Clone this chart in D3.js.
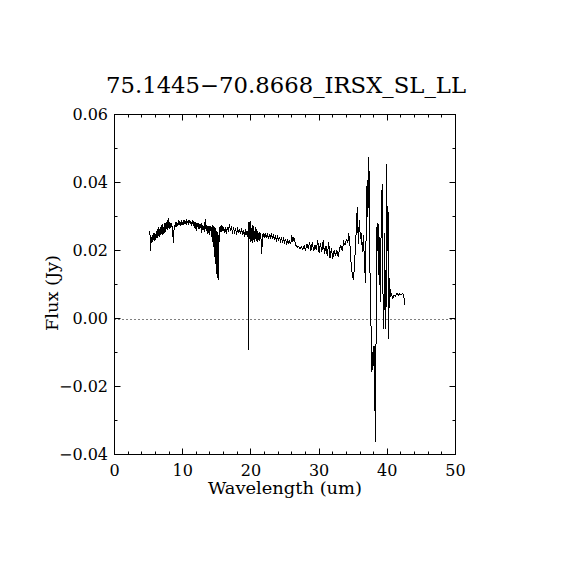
<!DOCTYPE html>
<html>
<head>
<meta charset="utf-8">
<script src="https://cdn.jsdelivr.net/npm/d3@7"></script>
<style>
  body { margin: 0; background: #fff; }
  svg { display: block; }
  text { font-family: "DejaVu Serif", serif; fill: #000; }
</style>
</head>
<body>
<svg id="chart" width="570" height="570"></svg>
<script>
// spectrum
const wave = [
  5.20, 5.24, 5.28, 5.34, 5.40, 5.46, 5.52, 5.58, 5.64, 5.70,
  5.76, 5.82, 5.88, 5.94, 6.00, 6.06, 6.12, 6.18, 6.24, 6.30,
  6.36, 6.42, 6.48, 6.54, 6.60, 6.66, 6.72, 6.78, 6.84, 6.90,
  6.96, 7.02, 7.08, 7.14, 7.20, 7.26, 7.32, 7.38, 7.44, 7.50,
  7.56, 7.62, 7.68, 7.74, 7.80, 7.86, 7.92, 7.98, 8.04, 8.10,
  8.16, 8.22, 8.28, 8.34, 8.40, 8.46, 8.52, 8.58, 8.64, 8.70,
  8.76, 8.90, 9.00, 9.10, 9.20, 9.30, 9.40, 9.50, 9.60, 9.70,
  9.80, 9.90, 10.0, 10.1, 10.2, 10.3, 10.4, 10.5, 10.6, 10.7,
  10.8, 10.9, 11.0, 11.1, 11.2, 11.3, 11.4, 11.5, 11.6, 11.7,
  11.8, 11.9, 12.0, 12.1, 12.2, 12.3, 12.4, 12.5, 12.6, 12.7,
  12.8, 12.9, 13.0, 13.1, 13.2, 13.3, 13.4, 13.5, 13.6, 13.7,
  13.8, 13.9, 14.0, 14.1, 14.2, 14.3, 14.35, 14.4, 14.45, 14.5,
  14.55, 14.6, 14.65, 14.7, 14.75, 14.8, 14.85, 14.9, 14.95, 15.0,
  15.05, 15.1, 15.15, 15.2, 15.25, 15.3, 15.35, 15.45, 15.55, 15.65,
  15.75, 15.85, 15.95, 16.1, 16.25, 16.4, 16.55, 16.7, 16.85, 17.0,
  17.15, 17.3, 17.45, 17.6, 17.75, 17.9, 18.05, 18.2, 18.35, 18.5,
  18.65, 18.8, 18.95, 19.1, 19.25, 19.4, 19.5, 19.58, 19.62, 19.66,
  19.72, 19.78, 19.84, 19.9, 19.96, 20.02, 20.08, 20.14, 20.2, 20.26,
  20.32, 20.38, 20.44, 20.5, 20.56, 20.62, 20.7, 20.78, 20.86, 20.94,
  21.02, 21.1, 21.2, 21.3, 21.4, 21.5, 21.6, 21.68, 21.8, 21.95,
  22.1, 22.25, 22.4, 22.55, 22.7, 22.85, 23.0, 23.15, 23.3, 23.45,
  23.6, 23.75, 23.9, 24.05, 24.2, 24.35, 24.5, 24.65, 24.8, 24.95,
  25.1, 25.25, 25.4, 25.55, 25.7, 25.85, 26.0, 26.15, 26.3, 26.45,
  26.6, 26.8, 27.0, 27.2, 27.4, 27.6, 27.8, 28.0, 28.2, 28.4,
  28.6, 28.8, 29.0, 29.2, 29.4, 29.6, 29.8, 30.0, 30.2, 30.4,
  30.6, 30.8, 31.0, 31.2, 31.4, 31.6, 31.8, 32.0, 32.2, 32.4,
  32.6, 32.8, 33.0, 33.2, 33.4, 33.6, 33.8, 34.0, 34.2, 34.35,
  34.5, 34.7, 34.9, 35.05, 35.25, 35.45, 35.6, 35.75, 35.9, 36.05,
  36.2, 36.35, 36.5, 36.65, 36.8, 36.95, 37.05, 37.15, 37.3, 37.45,
  37.6, 37.75, 37.85, 37.95, 38.05, 38.15, 38.27, 38.4, 38.5, 38.6,
  38.7, 38.8, 38.9, 39.0, 39.1, 39.25, 39.35, 39.5, 39.6, 39.7,
  39.8, 39.9, 40.0, 40.1, 40.2, 40.3, 40.4, 40.5, 40.6, 40.8,
  41.0, 41.2, 41.4, 41.6, 41.8, 42.0, 42.2, 42.4, 42.55
];
const flux = [
  0.0258, 0.0200, 0.0245, 0.0218, 0.0240, 0.0222, 0.0246, 0.0226, 0.0240, 0.0230,
  0.0250, 0.0228, 0.0252, 0.0234, 0.0248, 0.0232, 0.0258, 0.0238, 0.0255, 0.0236,
  0.0262, 0.0242, 0.0270, 0.0245, 0.0262, 0.0240, 0.0268, 0.0248, 0.0275, 0.0250,
  0.0265, 0.0245, 0.0278, 0.0255, 0.0270, 0.0250, 0.0282, 0.0258, 0.0275, 0.0255,
  0.0285, 0.0262, 0.0280, 0.0260, 0.0290, 0.0265, 0.0296, 0.0268, 0.0285, 0.0262,
  0.0280, 0.0265, 0.0282, 0.0268, 0.0278, 0.0262, 0.0272, 0.0240, 0.0222, 0.0250,
  0.0275, 0.0268, 0.0285, 0.0270, 0.0282, 0.0272, 0.0290, 0.0275, 0.0286, 0.0272,
  0.0288, 0.0276, 0.0284, 0.0274, 0.0290, 0.0278, 0.0285, 0.0276, 0.0292, 0.0280,
  0.0288, 0.0276, 0.0290, 0.0278, 0.0286, 0.0272, 0.0290, 0.0278, 0.0285, 0.0265,
  0.0284, 0.0270, 0.0258, 0.0280, 0.0268, 0.0282, 0.0262, 0.0278, 0.0265, 0.0280,
  0.0252, 0.0276, 0.0262, 0.0272, 0.0255, 0.0294, 0.0262, 0.0275, 0.0250, 0.0272,
  0.0258, 0.0245, 0.0272, 0.0258, 0.0268, 0.0238, 0.0275, 0.0225, 0.0272, 0.0215,
  0.0270, 0.0200, 0.0268, 0.0180, 0.0265, 0.0160, 0.0262, 0.0145, 0.0258, 0.0130,
  0.0255, 0.0118, 0.0250, 0.0112, 0.0245, 0.0180, 0.0268, 0.0250, 0.0272, 0.0255,
  0.0275, 0.0258, 0.0270, 0.0252, 0.0268, 0.0248, 0.0270, 0.0255, 0.0278, 0.0258,
  0.0272, 0.0250, 0.0268, 0.0255, 0.0265, 0.0245, 0.0268, 0.0252, 0.0262, 0.0248,
  0.0265, 0.0245, 0.0260, 0.0240, 0.0262, 0.0245, 0.0258, 0.0240, -0.0094, 0.0100,
  0.0285, 0.0235, 0.0270, 0.0225, 0.0288, 0.0228, 0.0265, 0.0230, 0.0275, 0.0222,
  0.0262, 0.0230, 0.0272, 0.0226, 0.0258, 0.0235, 0.0268, 0.0228, 0.0262, 0.0224,
  0.0258, 0.0232, 0.0255, 0.0228, 0.0250, 0.0232, 0.0190, 0.0240, 0.0252, 0.0236,
  0.0250, 0.0238, 0.0248, 0.0236, 0.0246, 0.0238, 0.0247, 0.0236, 0.0244, 0.0234,
  0.0242, 0.0230, 0.0240, 0.0232, 0.0238, 0.0228, 0.0236, 0.0226, 0.0235, 0.0224,
  0.0232, 0.0220, 0.0230, 0.0222, 0.0228, 0.0220, 0.0244, 0.0226, 0.0238, 0.0225,
  0.0215, 0.0210, 0.0212, 0.0206, 0.0210, 0.0203, 0.0214, 0.0198, 0.0220, 0.0204,
  0.0226, 0.0200, 0.0224, 0.0198, 0.0216, 0.0202, 0.0230, 0.0192, 0.0222, 0.0196,
  0.0230, 0.0190, 0.0214, 0.0184, 0.0224, 0.0178, 0.0206, 0.0176, 0.0200, 0.0184,
  0.0202, 0.0180, 0.0206, 0.0215, 0.0198, 0.0225, 0.0216, 0.0232, 0.0222, 0.0250,
  0.0225, 0.0160, 0.0125, 0.0112, 0.0180, 0.0260, 0.0327, 0.0220, 0.0290, 0.0235,
  0.0250, 0.0195, 0.0245, 0.0165, 0.0105, 0.0340, 0.0406, 0.0300, 0.0474, 0.0150,
  -0.0010, -0.0158, -0.0100, -0.0140, -0.0080, -0.0210, -0.0364, 0.0130, 0.0280, 0.0200,
  0.0278, 0.0100, 0.0240, 0.0050, 0.0290, 0.0397, 0.0090, -0.0030, 0.0250, 0.0080,
  -0.0030, 0.0455, 0.0200, 0.0330, -0.0060, 0.0120, 0.0085, 0.0062, 0.0072, 0.0060,
  0.0068, 0.0066, 0.0075, 0.0068, 0.0072, 0.0070, 0.0073, 0.0070, 0.0040
];

const title = "75.1445\u221270.8668_IRSX_SL_LL";
const xMajor = [0, 10, 20, 30, 40, 50];
const xMinor = [2, 4, 6, 8, 12, 14, 16, 18, 22, 24, 26, 28, 32, 34, 36, 38, 42, 44, 46, 48];
const yMajor = [-0.04, -0.02, 0.00, 0.02, 0.04, 0.06];
const yMinor = [-0.03, -0.01, 0.01, 0.03, 0.05];

const svg = d3.select("#chart");
const pLeft = 114.5, pRight = 455.5, pTop = 114.5, pBottom = 454.5;

const x = d3.scaleLinear().domain([0, 50]).range([pLeft, pRight]);
const y = d3.scaleLinear().domain([-0.04, 0.06]).range([pBottom, pTop]);

const fmtY = (d) => d3.format(".2f")(d).replace("-", "\u2212");

// zero line
svg.append("line")
  .attr("x1", pLeft).attr("x2", pRight)
  .attr("y1", Math.round(y(0)) + 0.5).attr("y2", Math.round(y(0)) + 0.5)
  .attr("stroke", "#000")
  .attr("stroke-width", 1)
  .attr("stroke-dasharray", "1,3");

// ticks, all pointing inward
function ticks(vals, len, horiz) {
  vals.forEach((v) => {
    if (horiz) {
      const px = Math.round(x(v) - 0.5) + 0.5;
      svg.append("line").attr("x1", px).attr("x2", px)
        .attr("y1", pBottom).attr("y2", pBottom - len).attr("stroke", "#000");
      svg.append("line").attr("x1", px).attr("x2", px)
        .attr("y1", pTop).attr("y2", pTop + len).attr("stroke", "#000");
    } else {
      const py = Math.round(y(v) - 0.5) + 0.5;
      svg.append("line").attr("y1", py).attr("y2", py)
        .attr("x1", pLeft).attr("x2", pLeft + len).attr("stroke", "#000");
      svg.append("line").attr("y1", py).attr("y2", py)
        .attr("x1", pRight).attr("x2", pRight - len).attr("stroke", "#000");
    }
  });
}
ticks(xMajor, 6, true);
ticks(xMinor, 3, true);
ticks(yMajor, 6, false);
ticks(yMinor, 3, false);

// frame
svg.append("rect")
  .attr("x", pLeft).attr("y", pTop)
  .attr("width", pRight - pLeft).attr("height", pBottom - pTop)
  .attr("fill", "none").attr("stroke", "#000").attr("stroke-width", 1);

// tick labels
svg.selectAll(".xl").data(xMajor).enter().append("text")
  .attr("x", (d) => x(d)).attr("y", 476)
  .attr("text-anchor", "middle").attr("font-size", 16)
  .text((d) => d);
svg.selectAll(".yl").data(yMajor).enter().append("text")
  .attr("x", 108).attr("y", (d) => y(d) + 5.5)
  .attr("text-anchor", "end").attr("font-size", 16)
  .text((d) => fmtY(d));

// spectrum
const line = d3.line().x((d, i) => x(wave[i])).y((d) => y(d));
svg.append("path")
  .datum(flux)
  .attr("d", line)
  .attr("fill", "none")
  .attr("stroke", "#000")
  .attr("stroke-width", 1)
  .attr("shape-rendering", "crispEdges");

// titles
svg.append("text")
  .attr("x", 286).attr("y", 93)
  .attr("text-anchor", "middle").attr("font-size", 22)
  .attr("textLength", 360).attr("lengthAdjust", "spacingAndGlyphs")
  .text(title);
svg.append("text")
  .attr("x", 285).attr("y", 494)
  .attr("text-anchor", "middle").attr("font-size", 16)
  .attr("textLength", 154).attr("lengthAdjust", "spacingAndGlyphs")
  .text("Wavelength (um)");
svg.append("text")
  .attr("transform", "translate(58,293) rotate(-90)")
  .attr("text-anchor", "middle").attr("font-size", 16)
  .attr("textLength", 76).attr("lengthAdjust", "spacingAndGlyphs")
  .text("Flux (Jy)");
</script>
</body>
</html>
